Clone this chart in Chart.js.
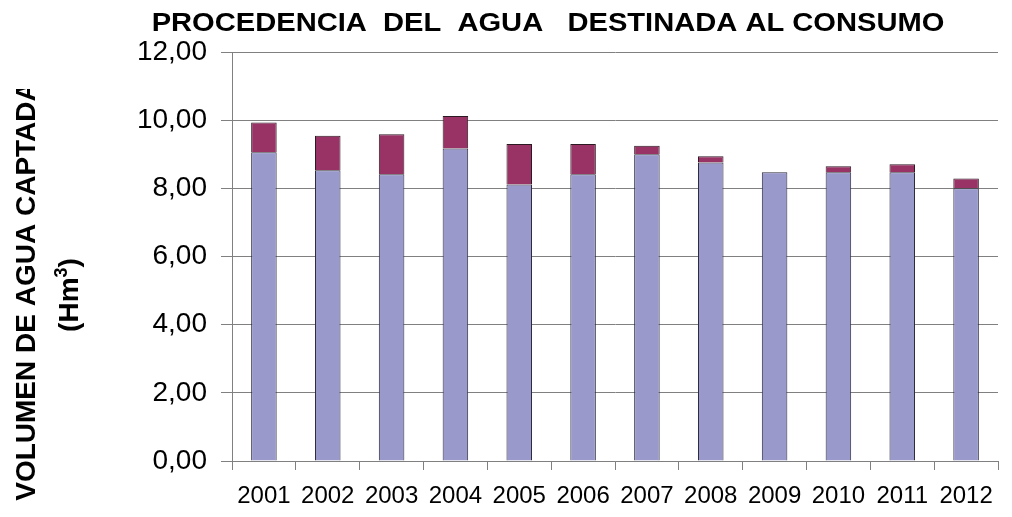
<!DOCTYPE html>
<html lang="es">
<head>
<meta charset="utf-8">
<title>Procedencia del agua destinada al consumo</title>
<script src="https://cdn.jsdelivr.net/npm/chart.js@4.4.1/dist/chart.umd.min.js"></script>
<style>
    html, body { margin: 0; padding: 0; background: #fff; }
    #wrap { width: 1012px; height: 517px; }
</style>
</head>
<body>
<div id="wrap"><canvas id="aguaChart" width="1012" height="517"></canvas></div>
<script>
        // datos (Hm3)
        const anios = ['2001', '2002', '2003', '2004', '2005', '2006', '2007', '2008', '2009', '2010', '2011', '2012'];
        const aguaBase = [9.06, 8.53, 8.41, 9.17, 8.11, 8.41, 9.00, 8.76, 8.47, 8.47, 8.47, 8.00];
        const aguaExtra = [0.87, 1.01, 1.18, 0.95, 1.19, 0.89, 0.25, 0.18, 0, 0.18, 0.24, 0.29];
        const yMin = 0, yMax = 12, yPaso = 2;

        const titulo = 'PROCEDENCIA  DEL  AGUA   DESTINADA AL CONSUMO';
        const tituloEjeY = 'VOLUMEN DE AGUA CAPTADA';

        const fuente = '"Liberation Sans", Arial, sans-serif';

        // titulo y texto del eje Y dibujados a mano (el original va recortado arriba)
        const textosPlugin = {
            id: 'textos',
            afterDraw(chart) {
                const ctx = chart.ctx;
                ctx.save();
                ctx.fillStyle = '#000';
                ctx.textAlign = 'center';
                ctx.textBaseline = 'alphabetic';
                ctx.font = 'bold 26px ' + fuente;
                // el titulo original sale algo ensanchado
                ctx.translate(548, 31);
                ctx.scale(1.12, 1);
                ctx.fillText(titulo, 0, 0);
                ctx.restore();

                ctx.save();
                ctx.beginPath();
                ctx.rect(0, 89, 120, 428);
                ctx.clip();
                ctx.fillStyle = '#000';
                ctx.translate(35, 291);
                ctx.rotate(-Math.PI / 2);
                ctx.textAlign = 'center';
                ctx.textBaseline = 'alphabetic';
                ctx.font = 'bold 28px ' + fuente;
                ctx.fillText(tituloEjeY, 0, 0);
                ctx.restore();

                // (Hm3) con el 3 en superindice
                ctx.save();
                ctx.fillStyle = '#000';
                ctx.translate(78, 295);
                ctx.rotate(-Math.PI / 2);
                ctx.textBaseline = 'alphabetic';
                ctx.textAlign = 'left';
                const fGrande = 'bold 28px ' + fuente;
                const fSup = 'bold 18px ' + fuente;
                ctx.font = fGrande;
                const w1 = ctx.measureText('(Hm').width;
                const w3 = ctx.measureText(')').width;
                ctx.font = fSup;
                const w2 = ctx.measureText('3').width;
                let x = -(w1 + w2 + w3) / 2;
                ctx.font = fGrande;
                ctx.fillText('(Hm', x, 0);
                x += w1;
                ctx.font = fSup;
                ctx.fillText('3', x, -11);
                x += w2;
                ctx.font = fGrande;
                ctx.fillText(')', x, 0);
                ctx.restore();
            }
        };

        const ctx = document.getElementById('aguaChart').getContext('2d');
        window.aguaChart = new Chart(ctx, {
            type: 'bar',
            data: {
                labels: anios,
                datasets: [{
                    label: 'Captacion 1',
                    data: aguaBase,
                    backgroundColor: '#9999cc',
                    borderColor: '#2b2b3a',
                    borderWidth: 1
                }, {
                    label: 'Captacion 2',
                    data: aguaExtra,
                    backgroundColor: '#993366',
                    borderColor: '#2b1a22',
                    borderWidth: 1
                }]
            },
            options: {
                responsive: false,
                animation: false,
                layout: { padding: { top: 52, right: 14, bottom: 0, left: 0 } },
                datasets: {
                    bar: { barPercentage: 0.4, categoryPercentage: 1.0 }
                },
                plugins: {
                    legend: { display: false },
                    title: { display: false },
                    tooltip: { enabled: false }
                },
                scales: {
                    x: {
                        stacked: true,
                        grid: {
                            offset: true,
                            drawOnChartArea: false,
                            drawTicks: true,
                            tickLength: 9,
                            color: '#808080'
                        },
                        border: { display: true, color: '#808080', width: 1 },
                        ticks: {
                            color: '#000',
                            padding: 12,
                            maxRotation: 0,
                            font: { family: fuente, size: 24 }
                        },
                        afterFit(scale) { scale.height = 56; }
                    },
                    y: {
                        stacked: true,
                        min: yMin,
                        max: yMax,
                        grid: {
                            color: '#808080',
                            lineWidth: 1,
                            drawTicks: true,
                            tickLength: 11
                        },
                        border: { display: true, color: '#808080', width: 1 },
                        ticks: {
                            stepSize: yPaso,
                            color: '#000',
                            padding: 14,
                            font: { family: fuente, size: 28 },
                            callback: v => v.toFixed(2).replace('.', ',')
                        },
                        afterFit(scale) { scale.width = 232; }
                    }
                }
            },
            plugins: [textosPlugin]
        });
</script>
</body>
</html>
